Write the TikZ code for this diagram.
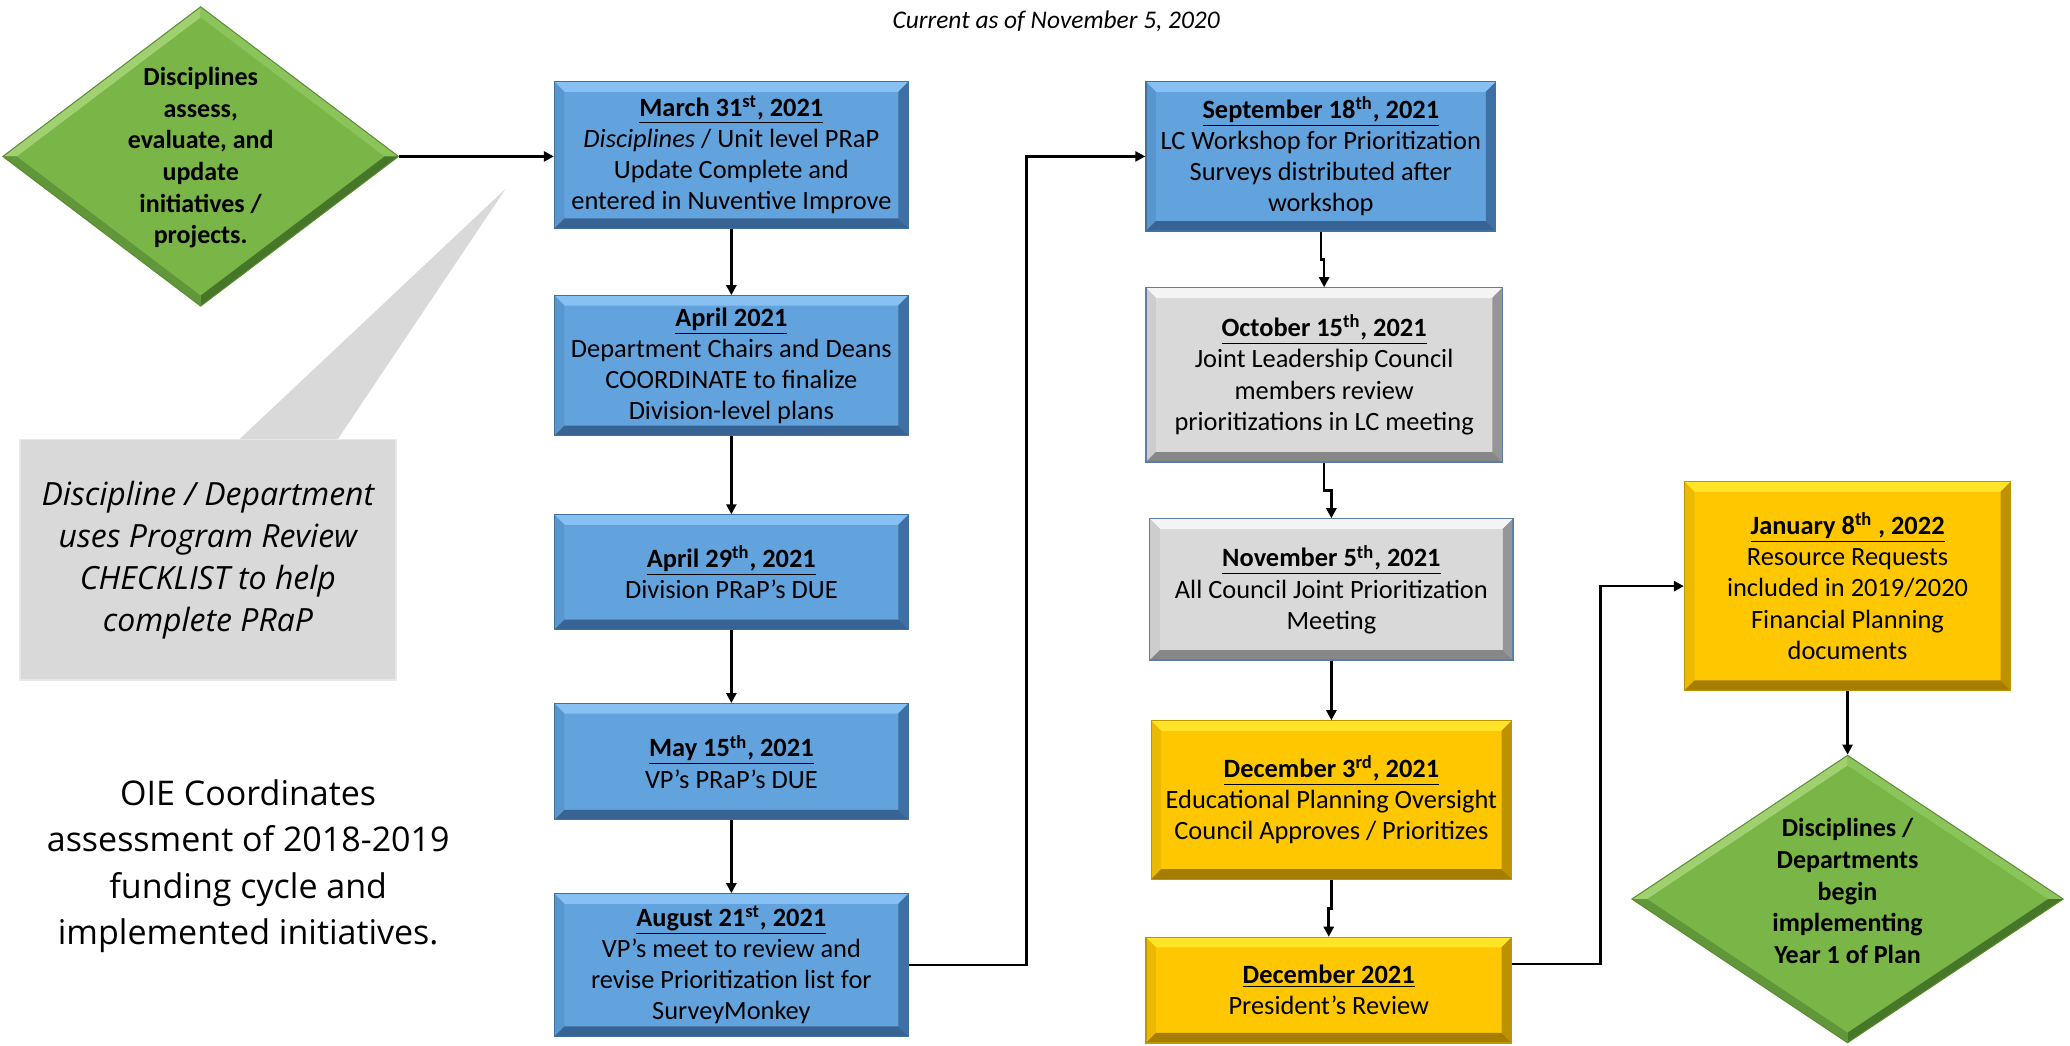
\documentclass[tikz,border=0pt]{standalone}
\usepackage{fontspec}
\setmainfont{Carlito}
\newfontfamily\osans{Open Sans}
\usetikzlibrary{arrows.meta,shapes.geometric,calc}

\definecolor{bfill}{RGB}{98,163,222}
\definecolor{btop}{RGB}{135,193,243}
\definecolor{bleft}{RGB}{88,150,208}
\definecolor{bright}{RGB}{62,112,165}
\definecolor{bbot}{RGB}{55,100,148}
\definecolor{bedge}{RGB}{65,113,156}
\definecolor{gfill}{RGB}{217,217,217}
\definecolor{gtop}{RGB}{244,244,244}
\definecolor{gleft}{RGB}{205,205,205}
\definecolor{gright}{RGB}{150,150,150}
\definecolor{gbot}{RGB}{135,135,135}
\definecolor{gedge}{RGB}{90,125,170}
\definecolor{yfill}{RGB}{255,199,0}
\definecolor{ytop}{RGB}{255,228,40}
\definecolor{yleft}{RGB}{235,185,0}
\definecolor{yright}{RGB}{190,145,0}
\definecolor{ybot}{RGB}{165,125,0}
\definecolor{yedge}{RGB}{190,150,0}
\definecolor{dfill}{RGB}{122,181,72}
\definecolor{dul}{RGB}{160,208,112}
\definecolor{dur}{RGB}{140,196,92}
\definecolor{dlr}{RGB}{70,118,40}
\definecolor{dll}{RGB}{98,150,58}
\definecolor{dedge}{RGB}{90,140,50}
\definecolor{cfill}{RGB}{217,217,217}
\definecolor{cedge}{RGB}{232,232,232}

\newcommand\hd[1]{\textbf{\underline{#1}}}
\newcommand\bevelrect[4]{%
  \path (path picture bounding box.north west) coordinate (pNW)
        (path picture bounding box.north east) coordinate (pNE)
        (path picture bounding box.south west) coordinate (pSW)
        (path picture bounding box.south east) coordinate (pSE);
  \fill[#1] (pNW) -- (pNE) -- ([shift={(-5pt,-5pt)}]pNE) -- ([shift={(5pt,-5pt)}]pNW) -- cycle;
  \fill[#2] (pNW) -- ([shift={(5pt,-5pt)}]pNW) -- ([shift={(5pt,5pt)}]pSW) -- (pSW) -- cycle;
  \fill[#3] (pNE) -- ([shift={(-5pt,-5pt)}]pNE) -- ([shift={(-5pt,5pt)}]pSE) -- (pSE) -- cycle;
  \fill[#4] (pSW) -- ([shift={(5pt,5pt)}]pSW) -- ([shift={(-5pt,5pt)}]pSE) -- (pSE) -- cycle;
}
\newcommand\beveldia{%
  \path (path picture bounding box.north) coordinate (qN)
        (path picture bounding box.east) coordinate (qE)
        (path picture bounding box.south) coordinate (qS)
        (path picture bounding box.west) coordinate (qW)
        (path picture bounding box.center) coordinate (qC);
  \fill[dul] (qW) -- (qN) -- ($(qN)!0.07!(qC)$) -- ($(qW)!0.07!(qC)$) -- cycle;
  \fill[dur] (qN) -- (qE) -- ($(qE)!0.07!(qC)$) -- ($(qN)!0.07!(qC)$) -- cycle;
  \fill[dlr] (qE) -- (qS) -- ($(qS)!0.07!(qC)$) -- ($(qE)!0.07!(qC)$) -- cycle;
  \fill[dll] (qS) -- (qW) -- ($(qW)!0.07!(qC)$) -- ($(qS)!0.07!(qC)$) -- cycle;
}

\tikzset{
  sz/.style 2 args={minimum width=#1*0.66pt, minimum height=#2*0.66pt},
  boxtxt/.style={align=center, inner sep=0pt, text=black,
    font=\fontsize{13.2}{15.6}\selectfont},
  bluebox/.style={rectangle, boxtxt, fill=bfill, draw=bedge, line width=0.6pt,
    path picture={\bevelrect{btop}{bleft}{bright}{bbot}}},
  graybox/.style={rectangle, boxtxt, fill=gfill, draw=gedge, line width=0.6pt,
    path picture={\bevelrect{gtop}{gleft}{gright}{gbot}}},
  yellowbox/.style={rectangle, boxtxt, fill=yfill, draw=yedge, line width=0.6pt,
    path picture={\bevelrect{ytop}{yleft}{yright}{ybot}}},
  greendia/.style={diamond, inner sep=0pt, fill=dfill, draw=dedge, line width=0.5pt,
    path picture={\beveldia}},
  diatxt/.style={align=center, inner sep=0pt, text=black,
    font=\bfseries\fontsize{13}{15.8}\selectfont},
  callout/.style={rectangle, inner sep=0pt, fill=cfill, draw=cedge, line width=0.8pt,
    align=center, font=\osans\itshape\fontsize{16}{21}\selectfont},
  plain/.style={align=center, inner sep=0pt, font=\osans\fontsize{17}{23.2}\selectfont},
  conn/.style={line width=1.3pt, -{Triangle[length=5pt,width=5pt]}}
}

\begin{document}
\begin{tikzpicture}[x=0.66pt,y=-0.66pt]
\useasboundingbox (0,0) rectangle (1568,792);

% subtitle
\node[font=\itshape\fontsize{12.7}{14}\selectfont, inner sep=0pt] (sub) at (800,16) {Current as of November 5, 2020};

% left diamond
\node[greendia, sz={300}{227}] (d1) at (152,118.5) {};
\node[diatxt] (d1t) at (152,119.5) {Disciplines\\assess,\\evaluate, and\\update\\initiatives /\\projects.};

% callout
\coordinate (tip) at (383,143);
\fill[cfill] (180,334) -- (tip) -- (255,334) -- cycle;
\node[callout, sz={285}{182}] (call) at (157.5,424) {Discipline / Department\\uses Program Review\\CHECKLIST to help\\complete PRaP};

% OIE text
\node[plain] (oie) at (188,656) {OIE Coordinates\\assessment of 2018-2019\\funding cycle and\\implemented initiatives.};

% column 1
\node[bluebox, sz={268}{111}] (mar) at (554,117.5) {\hd{March 31\textsuperscript{st}, 2021}\\\textit{Disciplines} / Unit level PRaP\\Update Complete and\\entered in Nuventive Improve};
\node[bluebox, sz={268}{106}] (apr) at (554,277) {\hd{April 2021}\\Department Chairs and Deans\\COORDINATE to finalize\\Division-level plans};
\node[bluebox, sz={268}{87}] (apr29) at (554,433.5) {\hd{April 29\textsuperscript{th}, 2021}\\Division PRaP’s DUE};
\node[bluebox, sz={268}{88}] (may) at (554,577) {\hd{May 15\textsuperscript{th}, 2021}\\VP’s PRaP’s DUE};
\node[bluebox, sz={268}{108}] (aug) at (554,731) {\hd{August 21\textsuperscript{st}, 2021}\\VP’s meet to review and\\revise Prioritization list for\\SurveyMonkey};

% column 2
\node[bluebox, sz={265}{113}] (sep) at (1000.5,118.5) {\hd{September 18\textsuperscript{th}, 2021}\\LC Workshop for Prioritization\\Surveys distributed after\\workshop};
\node[graybox, sz={270}{132}] (oct) at (1003,284) {\hd{October 15\textsuperscript{th}, 2021}\\Joint Leadership Council\\members review\\prioritizations in LC meeting};
\node[graybox, sz={275}{107}] (nov) at (1008.5,446.5) {\hd{November 5\textsuperscript{th}, 2021}\\All Council Joint Prioritization\\Meeting};
\node[yellowbox, sz={273}{120}] (dec3) at (1008.5,606) {\hd{December 3\textsuperscript{rd}, 2021}\\Educational Planning Oversight\\Council Approves / Prioritizes};
\node[yellowbox, sz={277}{80}] (dec) at (1006.5,750) {\hd{December 2021}\\President’s Review};

% column 3
\node[yellowbox, sz={247}{158}] (jan) at (1399.5,444) {\hd{January 8\textsuperscript{th} , 2022}\\Resource Requests\\included in 2019/2020\\Financial Planning\\documents};
\node[greendia, sz={327}{218}] (d2) at (1399.5,681) {};
\node[diatxt] (d2t) at (1399.5,675) {Disciplines /\\Departments\\begin\\implementing\\Year 1 of Plan};

% connectors
\draw[conn] (d1.east) -- (d1.east -| mar.west);
\draw[conn] (mar.south) |- ($(mar.south)!0.5!(apr.north)$) -| (apr.north);
\draw[conn] (apr.south) |- ($(apr.south)!0.5!(apr29.north)$) -| (apr29.north);
\draw[conn] (apr29.south) |- ($(apr29.south)!0.5!(may.north)$) -| (may.north);
\draw[conn] (may.south) |- ($(may.south)!0.5!(aug.north)$) -| (aug.north);
\draw[conn] (aug.east) -- ++(89,0) |- (sep.west);
\draw[conn] (sep.south) |- ($(sep.south)!0.5!(oct.north)$) -| (oct.north);
\draw[conn] (oct.south) |- ($(oct.south)!0.5!(nov.north)$) -| (nov.north);
\draw[conn] (nov.south) |- ($(nov.south)!0.5!(dec3.north)$) -| (dec3.north);
\draw[conn] (dec3.south) |- ($(dec3.south)!0.5!(dec.north)$) -| (dec.north);
\draw[conn] ([yshift=13pt]dec.east) -- ++(67,0) |- (jan.west);
\draw[conn] (jan.south) -- (jan.south |- d2.north);
\end{tikzpicture}
\end{document}
